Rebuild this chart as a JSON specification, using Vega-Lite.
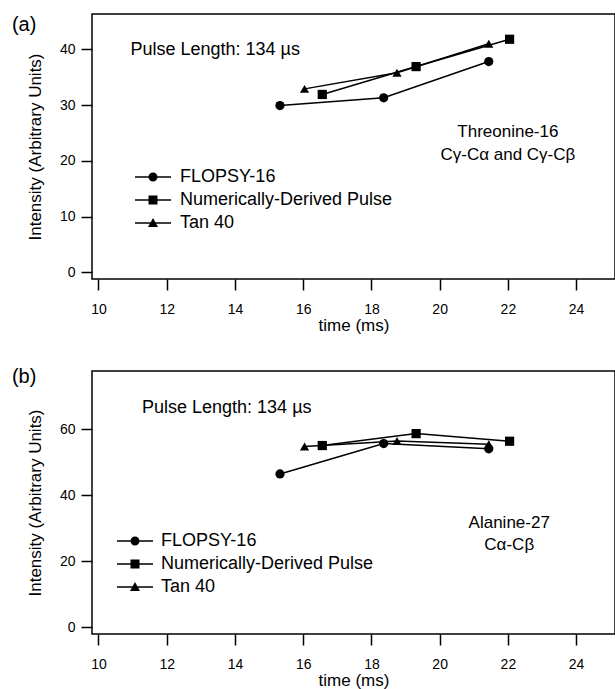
{
  "$schema": "https://vega.github.io/schema/vega-lite/v6.json",
  "padding": {"left": 11, "top": 13, "right": 0, "bottom": 0},
  "spacing": 32,
  "config": {
    "font": "Liberation Sans",
    "view": {"stroke": "black", "strokeWidth": 1.5},
    "axis": {
      "domain": false,
      "tickColor": "black", "tickWidth": 1.5, "tickSize": 11,
      "labelColor": "black", "labelFont": "Liberation Sans", "labelFontSize": 14,
      "titleColor": "black", "titleFont": "Liberation Sans", "titleFontSize": 17, "titleFontWeight": "normal",
      "grid": false
    }
  },
  "datasets": {
    "a": [
      {"series": "FLOPSY-16", "time": 15.32, "intensity": 29.9},
      {"series": "FLOPSY-16", "time": 18.36, "intensity": 31.3},
      {"series": "FLOPSY-16", "time": 21.44, "intensity": 37.8},
      {"series": "Numerically-Derived Pulse", "time": 16.56, "intensity": 31.9},
      {"series": "Numerically-Derived Pulse", "time": 19.31, "intensity": 36.9},
      {"series": "Numerically-Derived Pulse", "time": 22.05, "intensity": 41.8},
      {"series": "Tan 40", "time": 16.04, "intensity": 32.9},
      {"series": "Tan 40", "time": 18.75, "intensity": 35.8},
      {"series": "Tan 40", "time": 21.44, "intensity": 41.0}
    ],
    "b": [
      {"series": "FLOPSY-16", "time": 15.32, "intensity": 46.4},
      {"series": "FLOPSY-16", "time": 18.36, "intensity": 55.6},
      {"series": "FLOPSY-16", "time": 21.44, "intensity": 54.0},
      {"series": "Numerically-Derived Pulse", "time": 16.56, "intensity": 55.0},
      {"series": "Numerically-Derived Pulse", "time": 19.31, "intensity": 58.6},
      {"series": "Numerically-Derived Pulse", "time": 22.05, "intensity": 56.3},
      {"series": "Tan 40", "time": 16.04, "intensity": 54.7},
      {"series": "Tan 40", "time": 18.75, "intensity": 56.4},
      {"series": "Tan 40", "time": 21.44, "intensity": 55.4}
    ],
    "pulse_a": [{"time": 13.42, "intensity": 39.8, "label": "Pulse Length: 134 µs"}],
    "pulse_b": [{"time": 13.76, "intensity": 66.5, "label": "Pulse Length: 134 µs"}],
    "species_a": [
      {"time": 22.0, "intensity": 25.2, "label": "Threonine-16"},
      {"time": 22.0, "intensity": 21.0, "label": "Cγ-Cα and Cγ-Cβ"}
    ],
    "species_b": [
      {"time": 22.04, "intensity": 31.7, "label": "Alanine-27"},
      {"time": 22.04, "intensity": 24.9, "label": "Cα-Cβ"}
    ],
    "tag_a": [{"time": 7.82, "intensity": 44.3, "label": "(a)"}],
    "tag_b": [{"time": 7.82, "intensity": 75.8, "label": "(b)"}]
  },
  "vconcat": [
    {
      "width": 523,
      "height": 265,
      "layer": [
        {
          "data": {"name": "a"},
          "mark": {"type": "line", "color": "black", "strokeWidth": 1.5},
          "encoding": {
            "x": {"field": "time", "type": "quantitative", "scale": {"domain": [9.81, 25.14], "nice": false, "zero": false},
                  "axis": {"values": [10, 12, 14, 16, 18, 20, 22, 24], "title": "time (ms)", "labelPadding": 12, "titlePadding": 1}},
            "y": {"field": "intensity", "type": "quantitative", "scale": {"domain": [-1.2, 46.33], "nice": false, "zero": false},
                  "axis": {"values": [0, 10, 20, 30, 40], "title": "Intensity (Arbitrary Units)", "labelPadding": 6, "titlePadding": 15}},
            "detail": {"field": "series"}
          }
        },
        {
          "data": {"name": "a"},
          "mark": {"type": "point", "filled": true, "color": "black", "size": 85, "opacity": 1},
          "encoding": {
            "x": {"field": "time", "type": "quantitative"},
            "y": {"field": "intensity", "type": "quantitative"},
            "shape": {"field": "series", "type": "nominal",
                      "scale": {"domain": ["FLOPSY-16", "Numerically-Derived Pulse", "Tan 40"], "range": ["circle", "square", "triangle-up"]},
                      "legend": null}
          }
        },
        {
          "data": {"name": "a"},
          "mark": {"type": "point", "filled": true, "color": "black", "opacity": 0},
          "encoding": {
            "x": {"field": "time", "type": "quantitative"},
            "y": {"field": "intensity", "type": "quantitative"},
            "shape": {"field": "series", "type": "nominal",
                      "scale": {"domain": ["FLOPSY-16", "Numerically-Derived Pulse", "Tan 40"],
                                "range": ["M-3.6,-0.15H3.6V0.15H-3.6ZM0.9,0A0.9,0.9,0,1,1,-0.9,0A0.9,0.9,0,1,1,0.9,0Z",
                                          "M-3.6,-0.15H3.6V0.15H-3.6ZM-0.9,-0.9H0.9V0.9H-0.9Z",
                                          "M-3.6,-0.15H3.6V0.15H-3.6ZM0,-1L1,0.8H-1Z"]},
                      "legend": {"title": null, "orient": "none", "legendX": 52, "legendY": 154, "padding": 0,
                                 "symbolSize": 100, "symbolStrokeWidth": 0, "symbolFillColor": "black", "symbolOpacity": 1,
                                 "labelFontSize": 18, "labelFont": "Liberation Sans", "labelColor": "black", "labelOffset": 18, "rowPadding": 5, "labelLimit": 400}}
          }
        },
        {
          "data": {"name": "pulse_a"},
          "mark": {"type": "text", "fontSize": 18, "align": "center", "baseline": "middle", "color": "black"},
          "encoding": {
            "x": {"field": "time", "type": "quantitative"},
            "y": {"field": "intensity", "type": "quantitative"},
            "text": {"field": "label"}
          }
        },
        {
          "data": {"name": "species_a"},
          "mark": {"type": "text", "fontSize": 17, "align": "center", "baseline": "middle", "color": "black"},
          "encoding": {
            "x": {"field": "time", "type": "quantitative"},
            "y": {"field": "intensity", "type": "quantitative"},
            "text": {"field": "label"}
          }
        },
        {
          "data": {"name": "tag_a"},
          "mark": {"type": "text", "fontSize": 20, "align": "center", "baseline": "middle", "color": "black"},
          "encoding": {
            "x": {"field": "time", "type": "quantitative"},
            "y": {"field": "intensity", "type": "quantitative"},
            "text": {"field": "label"}
          }
        }
      ],
      "resolve": {"scale": {"shape": "independent"}}
    },
    {
      "width": 523,
      "height": 263,
      "layer": [
        {
          "data": {"name": "b"},
          "mark": {"type": "line", "color": "black", "strokeWidth": 1.5},
          "encoding": {
            "x": {"field": "time", "type": "quantitative", "scale": {"domain": [9.81, 25.14], "nice": false, "zero": false},
                  "axis": {"values": [10, 12, 14, 16, 18, 20, 22, 24], "title": "time (ms)", "labelPadding": 12, "titlePadding": 1}},
            "y": {"field": "intensity", "type": "quantitative", "scale": {"domain": [-2.03, 77.55], "nice": false, "zero": false},
                  "axis": {"values": [0, 20, 40, 60], "title": "Intensity (Arbitrary Units)", "labelPadding": 6, "titlePadding": 15}},
            "detail": {"field": "series"}
          }
        },
        {
          "data": {"name": "b"},
          "mark": {"type": "point", "filled": true, "color": "black", "size": 85, "opacity": 1},
          "encoding": {
            "x": {"field": "time", "type": "quantitative"},
            "y": {"field": "intensity", "type": "quantitative"},
            "shape": {"field": "series", "type": "nominal",
                      "scale": {"domain": ["FLOPSY-16", "Numerically-Derived Pulse", "Tan 40"], "range": ["circle", "square", "triangle-up"]},
                      "legend": null}
          }
        },
        {
          "data": {"name": "b"},
          "mark": {"type": "point", "filled": true, "color": "black", "opacity": 0},
          "encoding": {
            "x": {"field": "time", "type": "quantitative"},
            "y": {"field": "intensity", "type": "quantitative"},
            "shape": {"field": "series", "type": "nominal",
                      "scale": {"domain": ["FLOPSY-16", "Numerically-Derived Pulse", "Tan 40"],
                                "range": ["M-3.6,-0.15H3.6V0.15H-3.6ZM0.9,0A0.9,0.9,0,1,1,-0.9,0A0.9,0.9,0,1,1,0.9,0Z",
                                          "M-3.6,-0.15H3.6V0.15H-3.6ZM-0.9,-0.9H0.9V0.9H-0.9Z",
                                          "M-3.6,-0.15H3.6V0.15H-3.6ZM0,-1L1,0.8H-1Z"]},
                      "legend": {"title": null, "orient": "none", "legendX": 34, "legendY": 161, "padding": 0,
                                 "symbolSize": 100, "symbolStrokeWidth": 0, "symbolFillColor": "black", "symbolOpacity": 1,
                                 "labelFontSize": 18, "labelFont": "Liberation Sans", "labelColor": "black", "labelOffset": 17, "rowPadding": 5, "labelLimit": 400}}
          }
        },
        {
          "data": {"name": "pulse_b"},
          "mark": {"type": "text", "fontSize": 18, "align": "center", "baseline": "middle", "color": "black"},
          "encoding": {
            "x": {"field": "time", "type": "quantitative"},
            "y": {"field": "intensity", "type": "quantitative"},
            "text": {"field": "label"}
          }
        },
        {
          "data": {"name": "species_b"},
          "mark": {"type": "text", "fontSize": 17, "align": "center", "baseline": "middle", "color": "black"},
          "encoding": {
            "x": {"field": "time", "type": "quantitative"},
            "y": {"field": "intensity", "type": "quantitative"},
            "text": {"field": "label"}
          }
        },
        {
          "data": {"name": "tag_b"},
          "mark": {"type": "text", "fontSize": 20, "align": "center", "baseline": "middle", "color": "black"},
          "encoding": {
            "x": {"field": "time", "type": "quantitative"},
            "y": {"field": "intensity", "type": "quantitative"},
            "text": {"field": "label"}
          }
        }
      ],
      "resolve": {"scale": {"shape": "independent"}}
    }
  ]
}
